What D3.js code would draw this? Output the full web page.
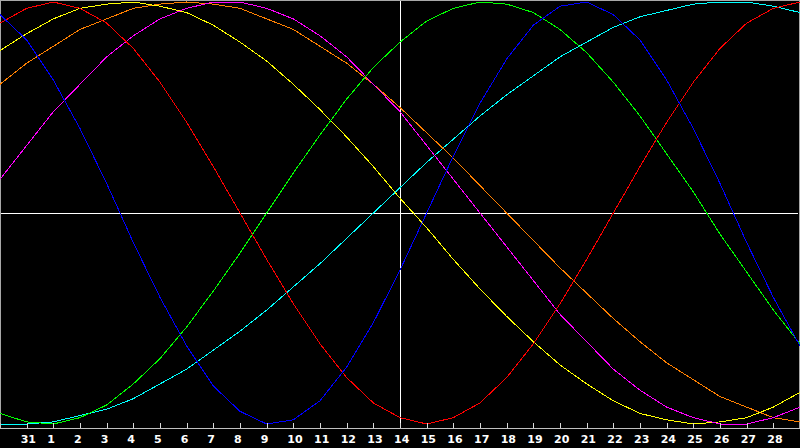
<!DOCTYPE html>
<html>
<head>
<meta charset="utf-8">
<script src="https://cdn.jsdelivr.net/npm/d3@7"></script>
<style>
  html, body { margin: 0; padding: 0; background: #000; }
  svg { display: block; }
</style>
</head>
<body>
<svg width="800" height="448"></svg>
<script>
// day labels under the ticks (index 1..29), 30 and 29 sit on the edges
var dayLabels = [30, 31, 1, 2, 3, 4, 5, 6, 7, 8, 9, 10, 11, 12, 13, 14,
                 15, 16, 17, 18, 19, 20, 21, 22, 23, 24, 25, 26, 27, 28, 29];
var todayIndex = 15;

// cycle values in percent, one per day
var physical     = [94, 82, 63, 40, 14, -14, -40, -63, -82, -94, -100, -98, -89, -73, -52, -27, 0, 27, 52, 73, 89, 98, 100, 94, 82, 63, 40, 14, -14, -40, -63];
var emotional    = [90, 97, 100, 97, 90, 78, 62, 43, 22, 0, -22, -43, -62, -78, -90, -97, -100, -97, -90, -78, -62, -43, -22, 0, 22, 43, 62, 78, 90, 97, 100];
var intellectual = [-95, -99, -100, -97, -91, -81, -69, -54, -37, -19, 0, 19, 37, 54, 69, 81, 91, 97, 100, 99, 95, 87, 76, 62, 46, 28, 10, -10, -28, -46, -62];
var intuitive    = [16, 32, 48, 61, 74, 84, 92, 97, 100, 100, 97, 92, 84, 74, 61, 48, 32, 16, 0, -16, -32, -48, -61, -74, -84, -92, -97, -100, -100, -97, -92];
var aesthetic    = [77, 85, 92, 97, 99, 100, 98, 95, 89, 81, 72, 61, 49, 36, 22, 7, -7, -22, -36, -49, -61, -72, -81, -89, -95, -98, -100, -99, -97, -92, -85];
var awareness    = [61, 71, 79, 87, 92, 97, 99, 100, 99, 97, 92, 87, 79, 71, 61, 50, 38, 26, 13, 0, -13, -26, -38, -50, -61, -71, -79, -87, -92, -97, -99];
var spiritual    = [-100, -100, -99, -96, -93, -88, -81, -74, -65, -56, -46, -35, -24, -12, 0, 12, 24, 35, 46, 56, 65, 74, 81, 88, 93, 96, 99, 100, 100, 98, 95];

var series = [
  {name: "spiritual", values: spiritual, color: "#00ffff"},
  {name: "awareness", values: awareness, color: "#ff8000"},
  {name: "aesthetic", values: aesthetic, color: "#ffff00"},
  {name: "intuitive", values: intuitive, color: "#ff00ff"},
  {name: "intellectual", values: intellectual, color: "#00ff00"},
  {name: "emotional", values: emotional, color: "#ff0000"},
  {name: "physical", values: physical, color: "#0000ff"}
];

var width = 800,
    height = 448,
    axisY = 428;

var svg = d3.select("svg");

svg.append("rect")
    .attr("width", width)
    .attr("height", height)
    .attr("fill", "#000");

var x = d3.scaleLinear().domain([0, dayLabels.length - 1]).range([0, width]);
var y = d3.scaleLinear().domain([-100, 100]).range([424, 2]);

//frame
svg.append("rect")
    .attr("x", 0.5)
    .attr("y", 0.5)
    .attr("width", 799)
    .attr("height", axisY)
    .attr("fill", "none")
    .attr("stroke", "#a8a8a8")
    .attr("shape-rendering", "crispEdges");

//zero line and today line
svg.append("line")
    .attr("x1", 1).attr("x2", 798)
    .attr("y1", Math.floor(y(0)) + 0.5).attr("y2", Math.floor(y(0)) + 0.5)
    .attr("stroke", "#fff")
    .attr("shape-rendering", "crispEdges");

svg.append("line")
    .attr("x1", x(todayIndex) + 0.5).attr("x2", x(todayIndex) + 0.5)
    .attr("y1", 1).attr("y2", axisY)
    .attr("stroke", "#fff")
    .attr("shape-rendering", "crispEdges");

//curves
var line = d3.line()
    .x(function (d, i) { return x(i); })
    .y(function (d) { return y(d); });

svg.append("g")
    .selectAll("path")
    .data(series)
    .enter().append("path")
    .attr("d", function (d) { return line(d.values); })
    .attr("fill", "none")
    .attr("stroke", function (d) { return d.color; })
    .attr("stroke-width", 1)
    .attr("shape-rendering", "crispEdges");

//axis
var tickIdx = d3.range(1, dayLabels.length - 1);
var axis = d3.axisBottom(x)
    .tickValues(tickIdx)
    .tickSize(-5)
    .tickPadding(7)
    .tickFormat(function (i) { return dayLabels[i]; });

var gx = svg.append("g")
    .attr("transform", "translate(0," + axisY + ")")
    .call(axis);

gx.select(".domain")
    .attr("stroke", "#c0c0c0")
    .attr("shape-rendering", "crispEdges");
gx.selectAll(".tick line")
    .attr("stroke", "#d8d8d8")
    .attr("shape-rendering", "crispEdges");
gx.selectAll(".tick text")
    .attr("fill", "#fff")
    .attr("text-anchor", "start")
    .attr("dx", -6.5)
    .style("font-family", "DejaVu Sans, sans-serif")
    .style("font-weight", "bold")
    .style("font-size", "11px");
</script>
</body>
</html>
